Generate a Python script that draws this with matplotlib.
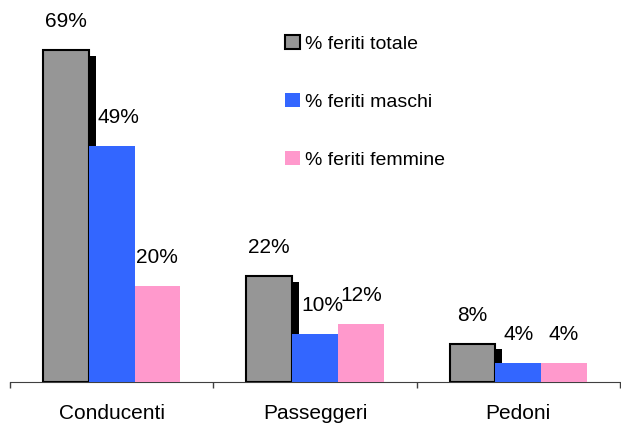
import matplotlib
matplotlib.use("Agg")
import matplotlib.pyplot as plt
import matplotlib.patheffects as pe
from matplotlib.patches import Patch
import numpy as np

categories = ["Conducenti", "Passeggeri", "Pedoni"]
series_names = ["% feriti totale", "% feriti maschi", "% feriti femmine"]
totale = [69, 22, 8]
maschi = [49, 10, 4]
femmine = [20, 12, 4]

colors = ["#969696", "#3366ff", "#ff99cc"]

plt.rcParams["font.family"] = ["Liberation Sans", "DejaVu Sans"]

fig = plt.figure(figsize=(6.21, 4.25), dpi=100)
ax = fig.add_axes([10 / 621, 43 / 425, 610 / 621, 382 / 425])

x = np.arange(len(categories))
w = 0.225

# gray series has a black drop shadow
b1 = ax.bar(x - w, totale, w, color=colors[0], edgecolor="black", linewidth=1.5, zorder=2,
            path_effects=[pe.SimplePatchShadow(offset=(5, -4.3), shadow_rgbFace="black", alpha=1.0),
                          pe.Normal()])
b2 = ax.bar(x, maschi, w, color=colors[1], linewidth=0, zorder=3)
b3 = ax.bar(x + w, femmine, w, color=colors[2], linewidth=0, zorder=3)

# labels next to the shadow sit a bit to the right
nudge = {(1, 0): 5, (1, 1): 5}
for si, (bars, vals) in enumerate([(b1, totale), (b2, maschi), (b3, femmine)]):
    for ci, (r, v) in enumerate(zip(bars, vals)):
        ax.annotate("%d%%" % v, (r.get_x() + r.get_width() / 2, v),
                    xytext=(nudge.get((si, ci), 0), 20.5), textcoords="offset points",
                    ha="center", va="center", fontsize=15)

ax.set_xlim(-0.5, 2.5)
ax.set_ylim(0, 79.4)

for s in ["top", "right", "left"]:
    ax.spines[s].set_visible(False)
ax.spines["bottom"].set_color("#404040")
ax.set_yticks([])
ax.set_xticks([-0.5, 0.5, 1.5, 2.5])
ax.set_xticklabels([])
ax.set_xticks(x, minor=True)
ax.set_xticklabels(categories, minor=True, fontsize=15)
ax.tick_params(axis="x", which="major", length=4, color="#404040", width=1)
ax.tick_params(axis="x", which="minor", length=0, pad=15.5)

handles = [Patch(facecolor=colors[0], edgecolor="black", linewidth=1.5),
           Patch(facecolor=colors[1], linewidth=0),
           Patch(facecolor=colors[2], linewidth=0)]
ax.legend(handles, series_names, loc="upper left", frameon=False, fontsize=14,
          bbox_to_anchor=(285 / 621, 1 - 35 / 425), bbox_transform=fig.transFigure,
          borderpad=0, borderaxespad=0, labelspacing=2.08, handlelength=0.75,
          handleheight=0.7, handletextpad=0.3)

fig.savefig("out.png", dpi=100)
